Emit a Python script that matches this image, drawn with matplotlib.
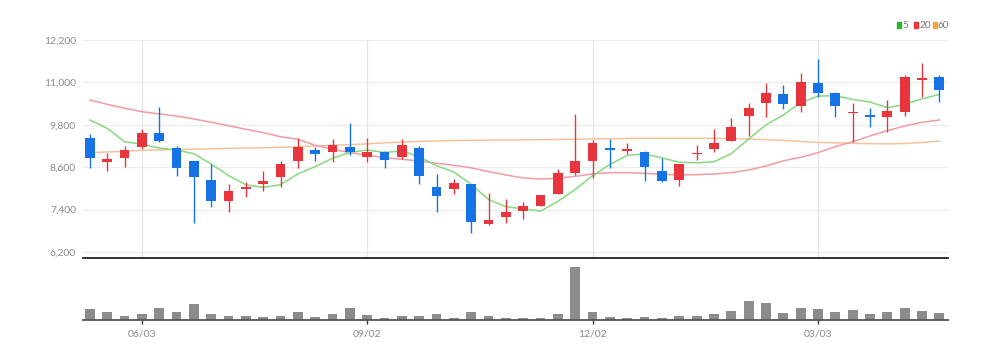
import matplotlib
matplotlib.use("Agg")
import matplotlib.pyplot as plt
from matplotlib import font_manager
import numpy as np

# ---- data (weekly candles) ----
opens = [9435, 8747, 8869, 9181, 9577, 9135, 8784, 8238, 7635, 7975,
         8133, 8314, 8784, 9087, 9022, 9181, 8897, 9022, 8897, 9135,
         8031, 7975, 8125, 6993, 7182, 7352, 7511, 7842, 8445, 8767,
         9124, 9050, 9022, 8501, 8238, 8970, 9107, 9342, 10049, 10409,
         10672, 10341, 10975, 10692, 10126, 10049, 10029, 10162, 11068, 11144]
highs = [9531, 8994, 9209, 9673, 10312, 9200, 8784, 8691, 8125, 8190,
         8493, 8784, 9418, 9163, 9390, 9843, 9435, 9067, 9390, 9200,
         8399, 8258, 8125, 7862, 7692, 7607, 7814, 8558, 10106, 9370,
         9398, 9277, 9059, 8852, 8682, 9229, 9681, 10001, 10426, 10975,
         10927, 11275, 11654, 10737, 10409, 10284, 10502, 11210, 11541, 11210]
lows = [8586, 8493, 8606, 9124, 9305, 8351, 7013, 7465, 7324, 7748,
        7935, 8031, 8586, 8767, 8747, 8954, 8756, 8586, 8824, 8125,
        7324, 7833, 6747, 6965, 7013, 7134, 7511, 7842, 8380, 8286,
        8586, 8974, 8218, 8190, 8068, 8804, 9039, 9342, 9483, 10029,
        10247, 10171, 10595, 10012, 9322, 9746, 9605, 10049, 10595, 10437]
closes = [8869, 8832, 9087, 9577, 9350, 8578, 8314, 7635, 7935, 8049,
          8210, 8691, 9163, 8974, 9229, 9030, 9039, 8804, 9229, 8351,
          7785, 8145, 7041, 7106, 7324, 7502, 7814, 8428, 8784, 9277,
          9087, 9107, 8614, 8218, 8682, 8990, 9277, 9746, 10284, 10692,
          10389, 11003, 10692, 10341, 10162, 10021, 10199, 11162, 11133, 10785]
ma5 = [9936, 9701, 9322, 9248, 9143, 9085, 8981, 8691, 8362, 8102,
       8029, 8104, 8410, 8617, 8853, 9017, 9087, 9015, 9066, 8891,
       8642, 8463, 8110, 7686, 7480, 7424, 7357, 7635, 7970, 8361,
       8678, 8937, 8974, 8861, 8742, 8722, 8756, 8983, 9396, 9798,
       10078, 10423, 10612, 10623, 10517, 10444, 10283, 10377, 10535, 10660]
ma20 = [10502, 10380, 10267, 10171, 10106, 10049, 9964, 9871, 9775, 9673,
        9577, 9463, 9390, 9220, 9107, 9011, 8937, 8869, 8824, 8776,
        8710, 8654, 8580, 8473, 8380, 8295, 8266, 8286, 8343, 8408,
        8445, 8445, 8428, 8399, 8380, 8389, 8408, 8445, 8521, 8634,
        8780, 8880, 9011, 9181, 9322, 9483, 9634, 9766, 9871, 9936]
ma60 = [9011, 9030, 9050, 9080, 9090, 9100, 9110, 9120, 9130, 9140,
        9150, 9163, 9180, 9200, 9220, 9240, 9260, 9290, 9310, 9330,
        9345, 9355, 9360, 9365, 9370, 9375, 9380, 9385, 9390, 9400,
        9405, 9412, 9418, 9418, 9418, 9418, 9415, 9410, 9395, 9380,
        9360, 9330, 9300, 9290, 9275, 9265, 9260, 9270, 9300, 9340]
volumes = [107, 77, 43, 60, 123, 83, 157, 60, 43, 37,
           27, 43, 77, 27, 57, 123, 47, 17, 43, 43,
           57, 17, 83, 37, 20, 23, 23, 60, 533, 77,
           27, 20, 27, 17, 40, 37, 60, 93, 190, 167,
           73, 117, 107, 77, 103, 60, 77, 117, 93, 73]
tick_idx = [3, 16, 29, 42]
tick_labels = ["06/03", "09/02", "12/02", "03/03"]
ytick_vals = [6200, 7400, 8600, 9800, 11000, 12200]
legend_names = ["5", "20", "60"]

# ---- style ----
RED = "#e8353d"
BLUE = "#1673e6"
C5, C20, C60 = "#86d97e", "#f29ba3", "#f7c39a"
W, H = 1002, 360
installed = {f.name for f in font_manager.fontManager.ttflist}
fam = [f for f in ["Liberation Sans Narrow", "Lato", "DejaVu Sans"] if f in installed]
plt.rcParams['font.family'] = fam
fig = plt.figure(figsize=(W / 100, H / 100), dpi=100)
narrow = fam[0] == "Liberation Sans Narrow"
FS = 8.5 if narrow else 7.5

def rect(l, t, r, b):
    return [l / W, 1 - b / H, (r - l) / W, (b - t) / H]

ax = fig.add_axes(rect(83, 40, 948, 258))
axv = fig.add_axes(rect(83, 259, 948, 320))

x = np.arange(len(closes))
o = np.array(opens, float); c = np.array(closes, float)
up = c >= o
cols = [RED if u else BLUE for u in up]

# grid
for yv in ytick_vals:
    ax.axhline(yv, color="#ececec", lw=0.9, zorder=0)
for t in tick_idx:
    ax.axvline(t, color="#e6e6e6", lw=0.9, zorder=0)

# moving averages
ax.plot(x, ma60, color=C60, lw=1.1, zorder=2)
ax.plot(x, ma20, color=C20, lw=1.1, zorder=2)
ax.plot(x, ma5, color=C5, lw=1.1, zorder=2)

# candles
ax.vlines(x, lows, highs, colors=cols, lw=1.0, zorder=3)
body_bottom = np.minimum(o, c)
body_h = np.maximum(np.abs(c - o), 45)
ax.bar(x, body_h, bottom=body_bottom, width=0.56, color=cols, zorder=4, linewidth=0)

ax.set_xlim(-0.4, 49.5)
ax.set_ylim(6030, 12200)
ax.set_yticks(ytick_vals)
ax.set_yticklabels([f"{v:,}" for v in ytick_vals], color="#8a8a8a", fontsize=FS)
ax.tick_params(axis="y", length=0, pad=5)
ax.set_xticks([])
for s in ["top", "right", "left"]:
    ax.spines[s].set_visible(False)
ax.spines["bottom"].set_color("#222222")
ax.spines["bottom"].set_linewidth(1.3)
ax.patch.set_alpha(0)

# volume
axv.bar(x, volumes, width=0.56, color="#8c8c8c", linewidth=0, zorder=2)
axv.set_xlim(-0.4, 49.5)
axv.set_ylim(0, max(volumes) * 61 / 53.3)
axv.set_yticks([])
axv.set_xticks(tick_idx)
axv.set_xticklabels(tick_labels, color="#8a8a8a", fontsize=FS)
axv.tick_params(axis="x", length=3, width=1, color="#333333", pad=4)
for s in ["top", "right", "left"]:
    axv.spines[s].set_visible(False)
axv.spines["bottom"].set_color("#555555")
axv.spines["bottom"].set_linewidth(1.3)
axv.patch.set_alpha(0)

# legend
for name, col, lx in zip(legend_names, ["#2db52d", RED, "#f5a04a"], [897, 914, 933]):
    fig.patches.append(plt.Rectangle((lx / W, 1 - 28 / H), 3.5 / W, 6 / H,
                                     transform=fig.transFigure, color=col, figure=fig))
    fig.text((lx + 5) / W, 1 - 25 / H, name, fontsize=7.2, color="#777777",
             va="center", ha="left")

fig.savefig("out.png", dpi=100)
